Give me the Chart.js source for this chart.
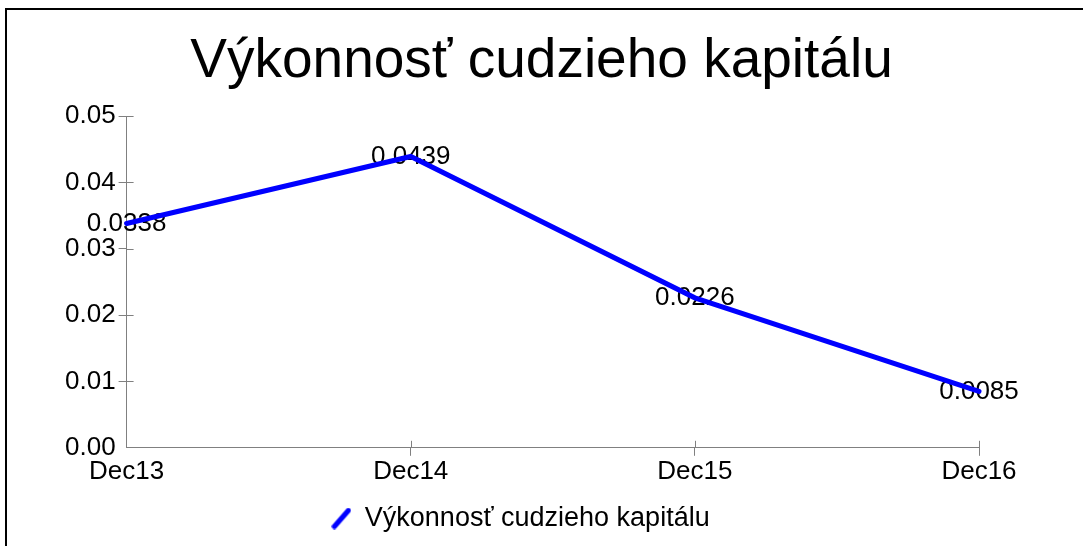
<!DOCTYPE html>
<html><head><meta charset="utf-8">
<script src="https://cdn.jsdelivr.net/npm/chart.js@4/dist/chart.umd.min.js"></script>
<style>
html,body{margin:0;padding:0;background:#fff;}
#wrap{position:relative;width:1083px;height:546px;overflow:hidden;}
#frame{position:absolute;left:5px;top:8px;width:1200px;height:700px;border-left:2px solid #000;border-top:2px solid #000;}
canvas{position:absolute;left:0;top:0;}
</style></head><body>
<div id="wrap"><div id="frame"></div><canvas id="c" width="1083" height="546"></canvas></div>
<script>
const categories = ['Dec13', 'Dec14', 'Dec15', 'Dec16'];
const seriesName = 'Výkonnosť cudzieho kapitálu';
const values = [0.0338, 0.0439, 0.0226, 0.0085];
const yMin = 0, yMax = 0.05, yStep = 0.01;

const FONT = '"Liberation Sans", Arial, Helvetica, sans-serif';
const AXIS = '#808080';
const LINE = '#0000ff';

// legend icon: diagonal stroke
const icon = document.createElement('canvas');
icon.width = 20; icon.height = 22;
(function(){
  const g = icon.getContext('2d');
  g.strokeStyle = LINE; g.lineWidth = 5; g.lineCap = 'round';
  g.beginPath(); g.moveTo(3, 19); g.lineTo(17, 3); g.stroke();
})();

// center the title on the whole canvas
const titleCenter = {
  id: 'titleCenter',
  afterLayout(chart) {
    const t = chart.titleBlock;
    if (t) { t.left = 0; t.right = chart.width; t.width = chart.width; }
  }
};

const innerTicks = {
  id: 'innerTicks',
  afterDraw(chart) {
    const ctx = chart.ctx;
    const xs = chart.scales.x, ys = chart.scales.y;
    ctx.save();
    ctx.strokeStyle = AXIS; ctx.lineWidth = 1;
    ctx.beginPath();
    ys.ticks.forEach((t, i) => {
      if (i === 0) return;
      const y = Math.round(ys.getPixelForValue(t.value)) + 0.5;
      ctx.moveTo(xs.left, y); ctx.lineTo(xs.left + 7, y);
    });
    xs.ticks.forEach((t, i) => {
      if (i === 0) return;
      const x = Math.round(xs.getPixelForTick(i)) + 0.5;
      ctx.moveTo(x, ys.bottom); ctx.lineTo(x, ys.bottom - 7);
    });
    ctx.stroke();
    ctx.restore();
  }
};

const valueLabels = {
  id: 'valueLabels',
  beforeDatasetsDraw(chart) {
    const ctx = chart.ctx;
    const meta = chart.getDatasetMeta(0);
    ctx.save();
    ctx.font = '26px ' + FONT;
    ctx.fillStyle = '#000';
    ctx.textAlign = 'center';
    ctx.textBaseline = 'middle';
    meta.data.forEach((pt, i) => {
      ctx.fillText(values[i].toFixed(4), pt.x, pt.y);
    });
    ctx.restore();
  }
};

new Chart(document.getElementById('c'), {
  type: 'line',
  data: {
    labels: categories,
    datasets: [{
      label: seriesName,
      data: values,
      borderColor: LINE,
      backgroundColor: LINE,
      borderWidth: 5,
      borderCapStyle: 'round',
      pointRadius: 0,
      pointHoverRadius: 0,
      pointStyle: icon,
      tension: 0,
      fill: false,
      clip: false
    }]
  },
  options: {
    responsive: false,
    animation: false,
    devicePixelRatio: 1,
    layout: { padding: { left: 62, right: 104, top: 0, bottom: 4 } },
    plugins: {
      title: {
        display: true,
        text: seriesName,
        color: '#000',
        font: { family: FONT, size: 55, weight: 'normal' },
        padding: { top: 29, bottom: 21 }
      },
      legend: {
        display: true,
        position: 'bottom',
        labels: {
          usePointStyle: true,
          boxWidth: 20,
          color: '#000',
          font: { family: FONT, size: 27 },
          padding: 18
        }
      },
      tooltip: { enabled: false }
    },
    scales: {
      x: {
        offset: false,
        grid: {
          drawOnChartArea: false,
          drawTicks: true,
          tickLength: 8,
          tickColor: (c) => c.index === 0 ? 'rgba(0,0,0,0)' : AXIS
        },
        border: { color: AXIS, width: 1 },
        ticks: { color: '#000', font: { family: FONT, size: 26 }, padding: 0, maxRotation: 0 }
      },
      y: {
        min: yMin, max: yMax,
        grid: {
          drawOnChartArea: false,
          drawTicks: true,
          tickLength: 8,
          tickColor: (c) => c.index === 0 ? 'rgba(0,0,0,0)' : AXIS
        },
        border: { color: AXIS, width: 1 },
        ticks: {
          stepSize: yStep,
          color: '#000',
          font: { family: FONT, size: 26 },
          padding: 3,
          callback: (v) => Number(v).toFixed(2)
        }
      }
    }
  },
  plugins: [titleCenter, innerTicks, valueLabels]
});
</script>
</body></html>
